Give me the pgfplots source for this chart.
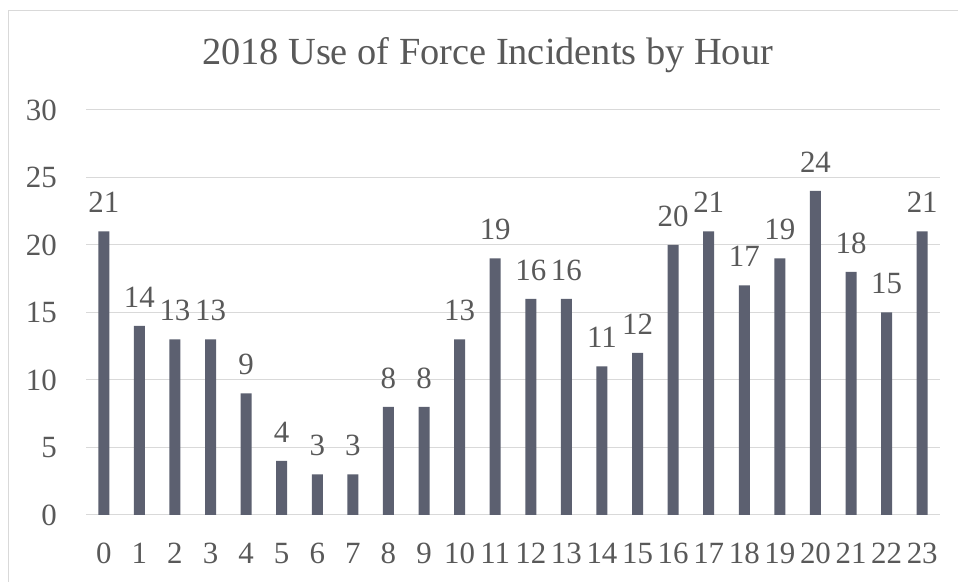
\documentclass[border=0pt]{standalone}
\usepackage{pgfplots}
\pgfplotsset{compat=1.18}
\usepackage{fontspec}
\setmainfont{Liberation Serif}
\definecolor{barcol}{RGB}{92,96,112}
\definecolor{txt}{RGB}{89,89,89}
\definecolor{gridc}{RGB}{217,217,217}
\begin{document}
\begin{tikzpicture}
\fill[white] (0,0) rectangle (958bp,582bp);
\draw[gridc, line width=1bp] (8bp,-20bp) rectangle (980bp,571bp);
\node[anchor=base, text=txt, font=\fontsize{38.5}{42}\selectfont, inner sep=0pt] at (487.5bp,517bp) {2018 Use of Force Incidents by Hour};
\begin{axis}[
  at={(86bp,67bp)}, anchor=south west,
  scale only axis, width=854bp, height=405bp,
  xmin=-0.5, xmax=23.5, ymin=0, ymax=30,
  ytick={0,5,...,30},
  xtick={0,...,23},
  ymajorgrids, grid style={gridc, line width=1bp},
  axis x line*=bottom, axis y line*=left,
  x axis line style={gridc, line width=1bp, -},
  y axis line style={draw=none},
  major tick length=0pt,
  tick label style={text=txt, font=\fontsize{31}{34}\selectfont},
  /pgf/number format/assume math mode=true,
  yticklabel style={anchor=base east, inner sep=0pt, xshift=-29bp, yshift=-10.5bp},
  xticklabel style={anchor=base, inner sep=0pt, yshift=-48bp},
  ybar, bar width=11bp, bar shift=0pt,
  nodes near coords,
  nodes near coords style={anchor=base, inner sep=0pt, yshift=18.5bp, text=txt, font=\fontsize{31}{34}\selectfont},
  clip=false,
]
\addplot[fill=barcol, draw=none] coordinates {
(0,21) (1,14) (2,13) (3,13) (4,9) (5,4) (6,3) (7,3) (8,8) (9,8) (10,13) (11,19)
(12,16) (13,16) (14,11) (15,12) (16,20) (17,21) (18,17) (19,19) (20,24) (21,18) (22,15) (23,21)
};
\end{axis}
\pgfresetboundingbox
\path[use as bounding box] (0,0) rectangle (958bp,582bp);
\end{tikzpicture}
\end{document}
